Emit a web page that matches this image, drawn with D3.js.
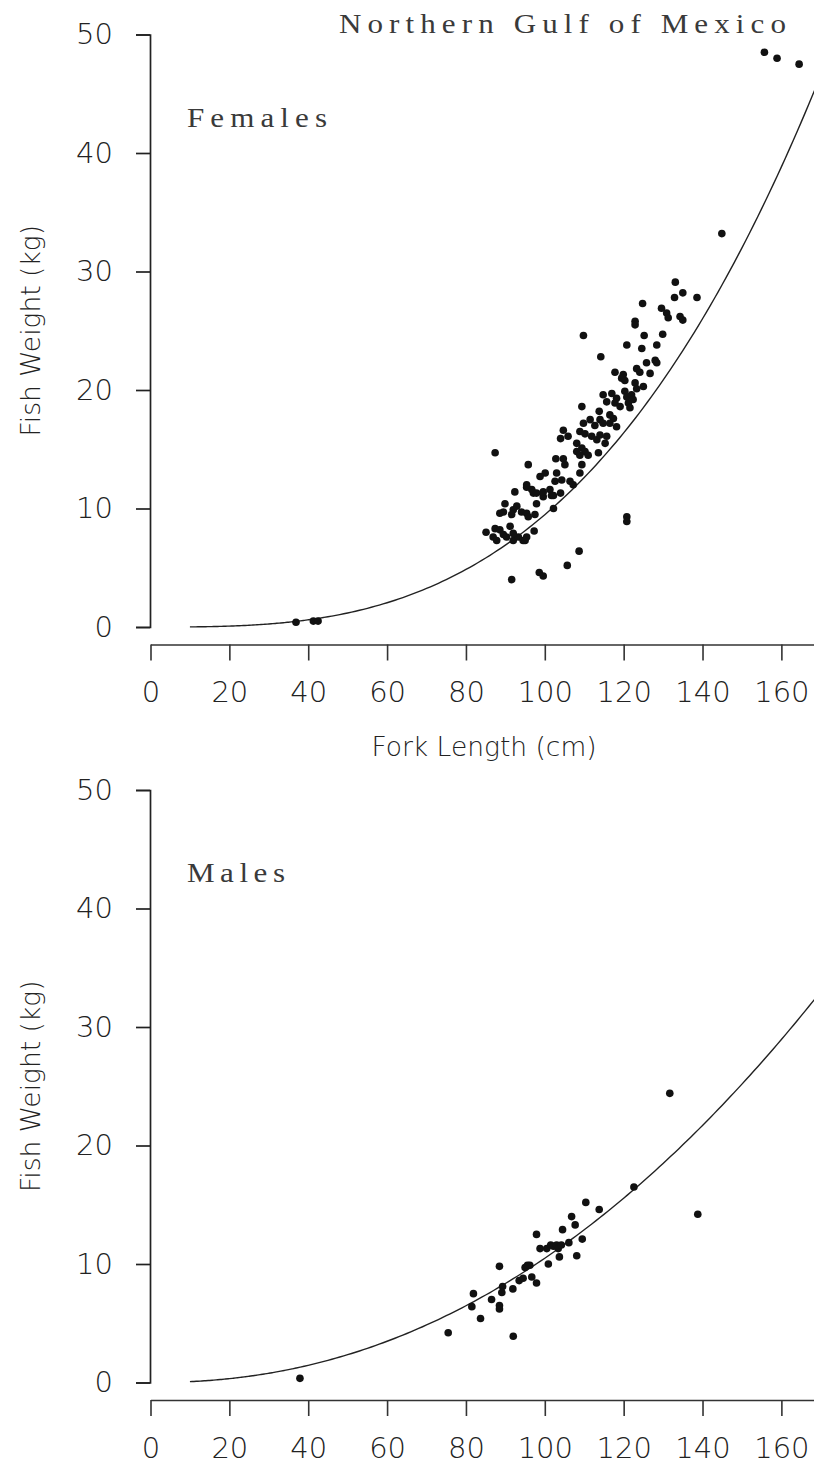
<!DOCTYPE html>
<html>
<head>
<meta charset="utf-8">
<script src="https://cdn.jsdelivr.net/npm/d3@7"></script>
<style>
  html, body { margin: 0; padding: 0; background: #fff; }
  svg { display: block; }
  .tick text, .axis-title { font-family: "DejaVu Sans", sans-serif; font-weight: 200; fill: #222; }
  .panel-label { font-family: "Liberation Serif", serif; fill: #3a3a3a; }
</style>
</head>
<body>
<svg id="chart" width="814" height="1467"></svg>
<script>
// Fork length (cm) / weight (kg)
const femaleLength = [
  36.9, 41.3, 42.5,
  87.4, 95.8, 91.6, 98.6, 99.6, 105.7, 108.7, 120.8, 120.8, 109.8, 144.9, 155.7, 158.9, 164.5,
  85.1, 87.4, 88.6, 91.2, 86.9, 87.8, 89.5, 90.3, 92.0, 93.3, 94.5, 95.4, 89.9, 88.6, 89.5, 92.0,
  92.9, 94.1, 95.4, 91.6, 92.4, 95.4, 97.3, 92.0, 95.0,
  97.1, 99.6, 101.7, 102.2, 97.5, 95.8, 97.9, 96.7, 97.9, 99.6, 101.3, 102.2, 104.0, 95.4, 100.1,
  98.8, 103.0, 104.3, 106.4, 107.2, 108.9, 102.6, 102.8, 104.7, 105.1, 109.4, 104.7, 108.9, 110.2,
  104.0, 105.9, 111.9, 113.2, 114.0, 115.7, 115.3, 108.1, 109.4, 108.1, 110.2, 111.0, 108.9, 113.6,
  109.4, 113.8, 116.5, 117.4, 111.5, 112.7, 114.0, 114.8, 116.5, 118.2, 109.8,
  114.8, 117.0, 118.2, 120.3, 120.8, 122.0, 115.7, 117.8, 119.1, 121.2, 121.6, 122.4, 122.9, 125.0,
  123.3, 119.9, 120.3, 119.5, 123.3, 124.1, 126.7, 117.8, 125.8, 128.0, 128.4, 114.2, 120.8, 124.6,
  128.4, 125.2, 129.9, 122.9, 122.9, 124.8, 129.6, 130.9, 131.3, 134.3, 135.0, 133.1, 135.0, 132.9, 138.6
];
const femaleWeight = [
  0.4, 0.5, 0.5,
  14.7, 13.7, 4.0, 4.6, 4.3, 5.2, 6.4, 9.3, 8.9, 24.6, 33.2, 48.5, 48.0, 47.5,
  8.0, 8.3, 8.2, 8.5, 7.6, 7.3, 7.8, 7.6, 7.3, 7.6, 7.3, 7.6, 10.4, 9.6, 9.7, 9.9,
  10.2, 9.7, 9.6, 9.5, 11.4, 11.8, 8.1, 7.9, 7.3,
  11.3, 11.0, 11.1, 10.0, 9.5, 9.3, 10.4, 11.6, 11.3, 11.4, 11.6, 11.1, 11.3, 12.0, 13.0,
  12.7, 13.0, 12.4, 12.3, 12.0, 13.0, 12.3, 14.2, 14.2, 13.7, 13.7, 16.6, 16.5, 16.3,
  15.9, 16.1, 16.1, 15.8, 16.2, 16.1, 15.5, 15.5, 15.1, 14.8, 14.8, 14.5, 14.5, 14.7,
  18.6, 18.2, 17.9, 17.6, 17.5, 17.0, 17.5, 17.2, 17.2, 16.9, 17.2,
  19.6, 19.7, 19.3, 19.9, 19.4, 19.6, 19.0, 18.9, 18.6, 18.9, 18.5, 19.2, 20.6, 20.3,
  20.1, 21.3, 20.8, 21.0, 21.8, 21.5, 21.4, 21.5, 22.3, 22.5, 22.3, 22.8, 23.8, 23.5,
  23.8, 24.6, 24.7, 25.8, 25.5, 27.3, 26.9, 26.5, 26.1, 26.2, 25.9, 29.1, 28.2, 27.8, 27.8
];

const maleLength = [
  37.9, 75.5, 92.0, 83.7, 81.5, 81.9, 86.5, 88.5, 88.5, 88.5, 89.3, 89.1, 91.9, 93.5, 94.5,
  96.7, 97.9, 95.0, 96.2, 95.6, 100.9, 97.9, 98.8, 100.5, 101.5, 102.2, 103.0, 103.4, 104.2,
  103.7, 104.5, 106.1, 108.1, 109.5, 106.8, 107.7, 110.4, 113.8, 122.6, 131.7, 138.8
];
const maleWeight = [
  0.35, 4.2, 3.9, 5.4, 6.4, 7.5, 7.0, 6.5, 6.2, 9.8, 8.1, 7.6, 7.9, 8.6, 8.8,
  8.9, 8.4, 9.7, 9.9, 9.9, 10.0, 12.5, 11.3, 11.3, 11.6, 11.5, 11.6, 11.3, 11.6,
  10.6, 12.9, 11.8, 10.7, 12.1, 14.0, 13.3, 15.2, 14.6, 16.5, 24.4, 14.2
];

// length-weight fits W = a * L^b
const femaleFit = { a: 9.48e-6, b: 3.0 };
const maleFit = { a: 5.02e-4, b: 2.16 };
const fitStart = 10;
const fitEnd = 172;

const xTicks = [0, 20, 40, 60, 80, 100, 120, 140, 160];
const yTicks = [0, 10, 20, 30, 40, 50];

const svg = d3.select("#chart");

// serif labels in the original are wide, typewriter-like: stretch glyphs a little
function wideLabel(x, y, text, width) {
  const sx = 1.15;
  svg.append("text")
    .attr("class", "panel-label")
    .attr("transform", `translate(${x},${y}) scale(${sx},1)`)
    .attr("font-size", 27)
    .attr("textLength", width / sx)
    .attr("lengthAdjust", "spacing")
    .text(text);
}

function drawPanel(opts) {
  const x = d3.scaleLinear().domain([0, 170]).range([150.5, 150.5 + 170 * 3.943]);
  const y = d3.scaleLinear().domain([0, 50]).range([opts.y0, opts.y0 - 592.5]);
  const g = svg.append("g");

  // y axis
  const yAxis = g.append("g")
    .attr("transform", "translate(150,0)")
    .call(d3.axisLeft(y).tickValues(yTicks).tickSize(14).tickPadding(23).tickFormat(d3.format("d")));
  yAxis.selectAll("path, line").attr("stroke", "#222").attr("stroke-width", 1.7);
  yAxis.selectAll("text").attr("font-size", 29);

  // x axis (sits below the plot)
  const xAxis = g.append("g")
    .attr("transform", `translate(0,${opts.y0 + 17.5})`)
    .call(d3.axisBottom(x).tickValues(xTicks).tickSize(16).tickSizeOuter(0).tickPadding(21).tickFormat(d3.format("d")));
  xAxis.selectAll("path, line").attr("stroke", "#333").attr("stroke-width", 1.6);
  xAxis.selectAll("text").attr("font-size", 29);

  // fitted curve
  const fitL = d3.range(fitStart, fitEnd + 0.5, 1);
  const line = d3.line()
    .x(d => x(d))
    .y(d => y(opts.fit.a * Math.pow(d, opts.fit.b)))
    .curve(d3.curveMonotoneX);
  g.append("path")
    .datum(fitL)
    .attr("d", line)
    .attr("fill", "none")
    .attr("stroke", "#222")
    .attr("stroke-width", 1.4);

  // observations
  g.append("g").selectAll("circle")
    .data(d3.range(opts.len.length))
    .join("circle")
    .attr("cx", i => x(opts.len[i]))
    .attr("cy", i => y(opts.wt[i]))
    .attr("r", 3.8)
    .attr("fill", "#111");

  // y title
  g.append("text")
    .attr("class", "axis-title")
    .attr("transform", `translate(40,${y(25)}) rotate(-90)`)
    .attr("text-anchor", "middle")
    .attr("font-size", 26.5)
    .text("Fish Weight (kg)");

  // sex label
  wideLabel(187, y(50) + 92, opts.label, opts.labelWidth);

  return { x, y };
}

drawPanel({ y0: 627, len: femaleLength, wt: femaleWeight, fit: femaleFit, label: "Females", labelWidth: 140 });
drawPanel({ y0: 1382.5, len: maleLength, wt: maleWeight, fit: maleFit, label: "Males", labelWidth: 98 });

svg.append("text")
  .attr("class", "axis-title")
  .attr("x", 484)
  .attr("y", 756)
  .attr("text-anchor", "middle")
  .attr("font-size", 26.5)
  .text("Fork Length (cm)");

wideLabel(339, 33, "Northern Gulf of Mexico", 447);
</script>
</body>
</html>
